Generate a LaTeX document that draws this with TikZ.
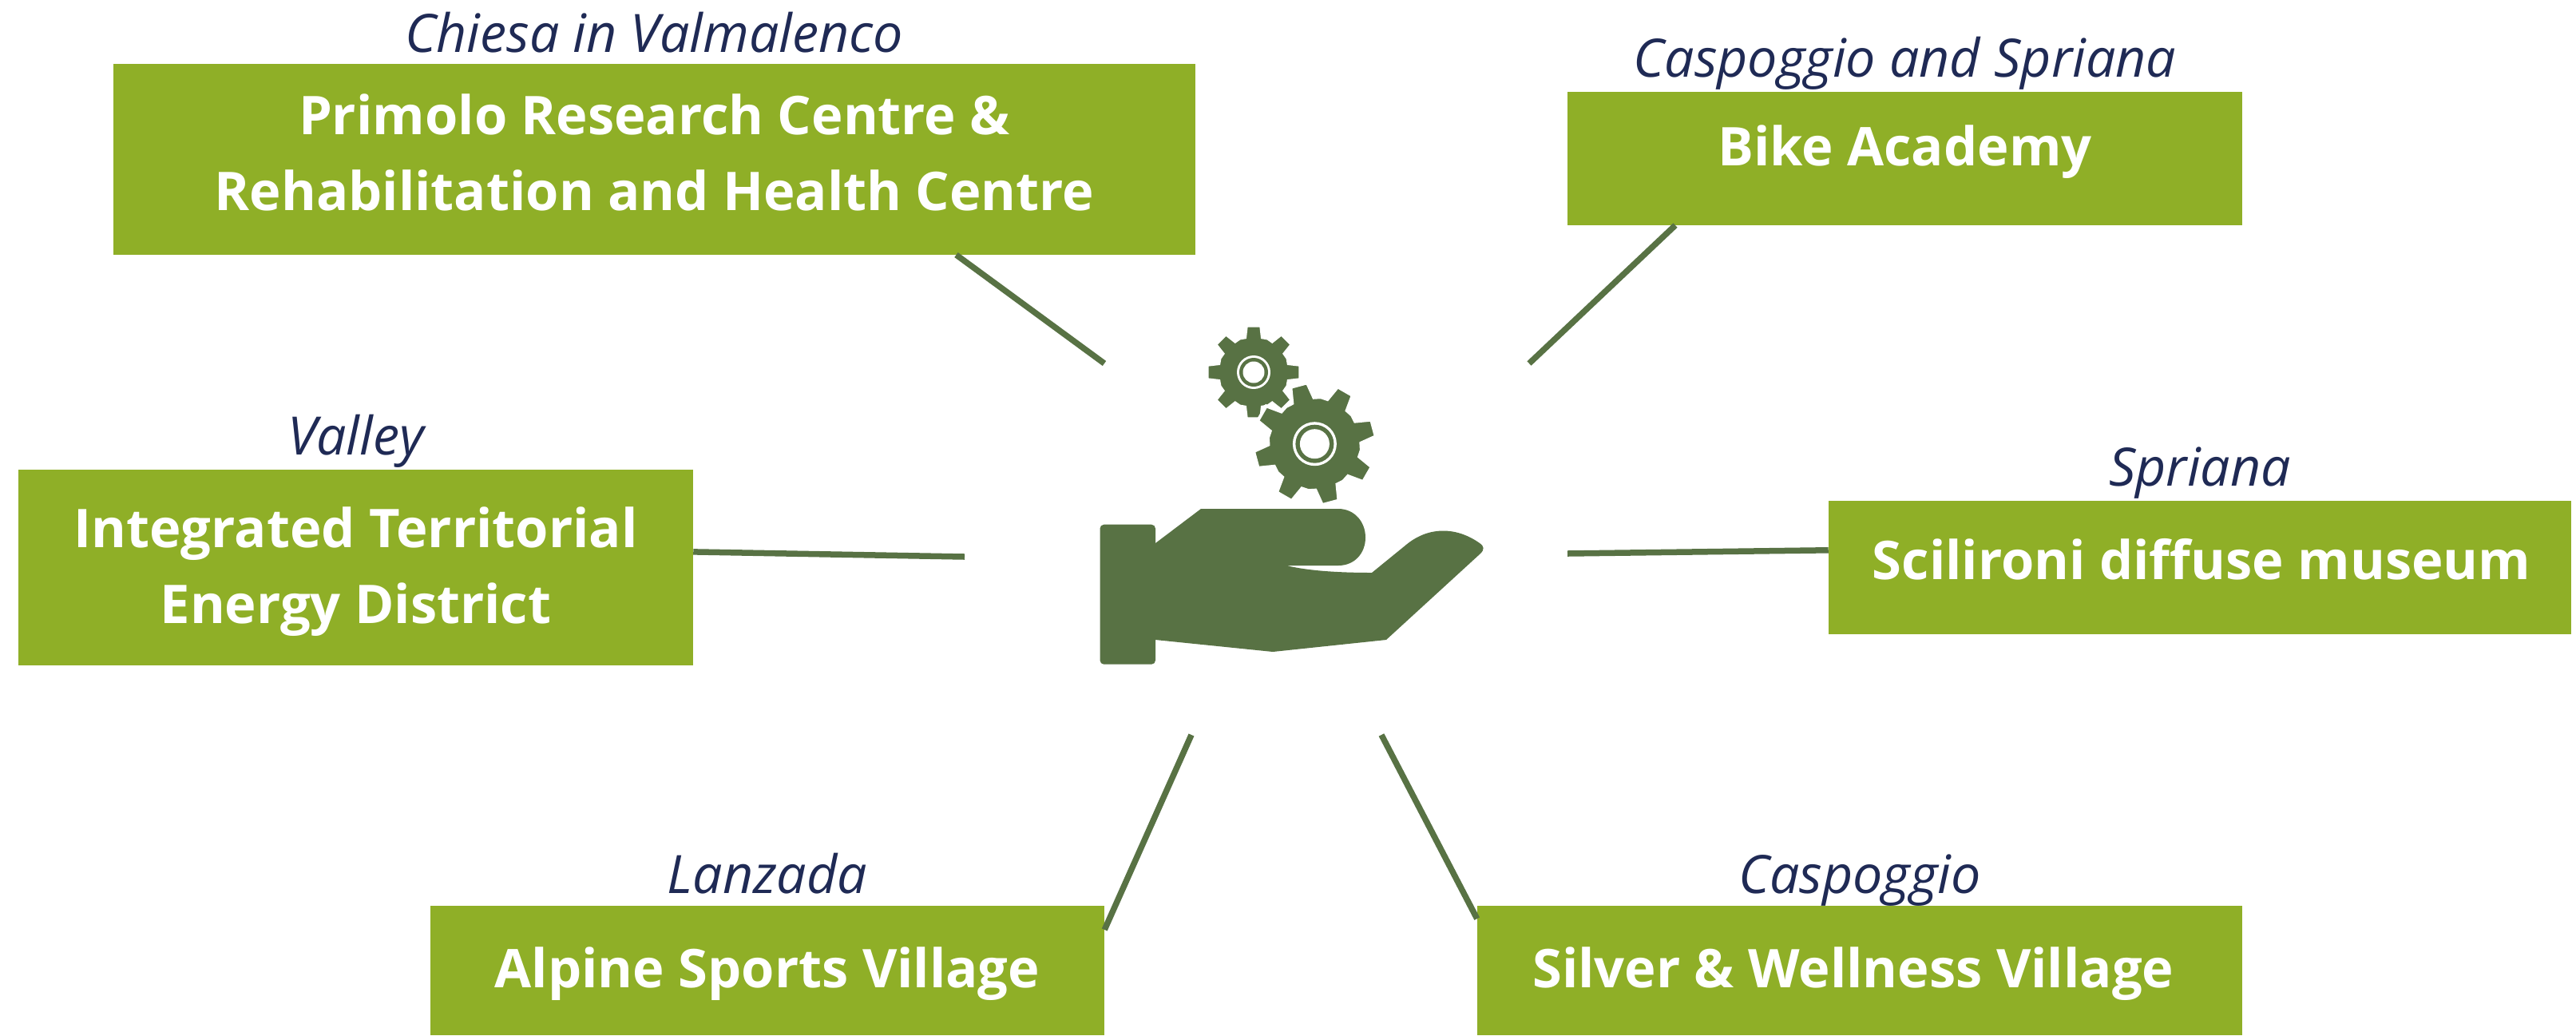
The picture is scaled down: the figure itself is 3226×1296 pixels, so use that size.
\documentclass[tikz,border=0pt]{standalone}
\usepackage{fontspec}
\setmainfont{Open Sans}
\usetikzlibrary{positioning,calc}
\definecolor{sitegreen}{HTML}{8FAF27}
\definecolor{handgreen}{HTML}{587244}
\definecolor{placeblue}{HTML}{1F2A55}
\providecommand{\sitetext}[2]{\raisebox{#1}[0pt][0pt]{\begin{tabular}{@{}c@{}}#2\end{tabular}}}
\providecommand{\gear}[5]{% centre, turn, root radius, tip radius
    \fill[handgreen,draw=white,line width=0.4mm,shift={#1}] (#2-14:#3)
    \foreach \a in {0,45,...,315} {
        -- (#2+\a-14:#3) -- (#2+\a-#5:#4) -- (#2+\a+#5:#4) -- (#2+\a+14:#3) -- (#2+\a+22.5:#3+1)
    } -- cycle;
}
\tikzset{
    site/.style={fill=sitegreen,text=white,inner sep=0pt,outer sep=0pt,font=\bfseries\fontsize{19}{27}\selectfont},
    place/.style={text=placeblue,inner sep=0pt,text depth=0pt,font=\itshape\fontsize{18.85}{24}\selectfont},
    spoke/.style={draw=handgreen,line width=0.75mm}
}
\begin{document}
\begin{tikzpicture}[x=0.01cm,y=-0.01cm]
    \useasboundingbox (0,0) rectangle (3226,1296);
    \node[site,minimum width=13.54cm,minimum height=2.39cm] (primolo) at (819.5,199.5) {\sitetext{-3.7pt}{Primolo Research Centre \&\\Rehabilitation and Health Centre}};
    \node[site,minimum width=8.45cm,minimum height=1.67cm] (bike) at (2385.5,198.5) {\sitetext{-1.4pt}{Bike Academy}};
    \node[site,minimum width=8.45cm,minimum height=2.45cm] (district) at (445.5,710.5) {\sitetext{-5.2pt}{Integrated Territorial\\Energy District}};
    \node[site,minimum width=9.30cm,minimum height=1.67cm] (museum) at (2755,710.5) {\kern1.2pt\sitetext{-3.2pt}{Scilironi diffuse museum}};
    \node[site,minimum width=8.44cm,minimum height=1.62cm] (sports) at (961,1215) {\sitetext{-5.1pt}{Alpine Sports Village}};
    \node[site,minimum width=9.58cm,minimum height=1.62cm] (silver) at (2329,1215) {\sitetext{-5.1pt}{Silver \& Wellness Village}\kern4.7pt};
    % places
    \node[place,above=4pt of primolo] (primolo_p) {Chiesa in Valmalenco};
    \node[place,above=5pt of bike] (bike_p) {Caspoggio and Spriana};
    \node[place,above=5pt of district] (district_p) {Valley};
    \node[place,above=5pt of museum] (museum_p) {Spriana};
    \node[place,above=4.3pt of sports] (sports_p) {Lanzada};
    \node[place,above=4.3pt of silver] (silver_p) {Caspoggio};
    % free ends near the hand
    \coordinate (primolo_e) at (1383,455);
    \coordinate (bike_e) at (1915,455);
    \coordinate (district_e) at (1208,697);
    \coordinate (museum_e) at (1963,693);
    \coordinate (sports_e) at (1492,920);
    \coordinate (silver_e) at (1730,920);
    \draw[spoke] ($(primolo.south west)!0.779!(primolo.south east)$) -- (primolo_e);
    \draw[spoke] ($(bike.south west)!0.16!(bike.south east)$) -- (bike_e);
    \draw[spoke] ($(district.south east)!0.58!(district.north east)$) -- (district_e);
    \draw[spoke] ($(museum.south west)!0.63!(museum.north west)$) -- (museum_e);
    \draw[spoke] ($(sports.south east)!0.815!(sports.north east)$) -- (sports_e);
    \draw[spoke] ($(silver.south west)!0.90!(silver.north west)$) -- (silver_e);
    % hand
    \fill[handgreen,rounded corners=0.05cm] (1377.5,656.7) rectangle (1447,831.7);
    \fill[handgreen] (1440,686) -- (1447,680) -- (1504,637) -- (1676,637)
        .. controls (1696,637) and (1710,653) .. (1710,673)
        .. controls (1710,693) and (1696,708) .. (1676,708) -- (1611,708)
        .. controls (1640,715) and (1680,717) .. (1718,717) -- (1761,682)
        .. controls (1790,658) and (1825,660) .. (1853,680)
        .. controls (1859,684) and (1859,688) .. (1854,693) -- (1736,801) -- (1594,816) -- (1447,801) -- (1440,801) -- cycle;
    % gears
    \gear{(1570,466)}{0}{45}{59}{9}
    \gear{(1646.4,555.7)}{30}{58}{77}{8}
    \foreach \c/\ra/\rb/\rc in {{1570,466}/21/18/13.5,{1646.4,555.7}/27.5/24/18.5} {
        \fill[white] (\c) circle[radius=\ra*0.01cm];
        \fill[handgreen] (\c) circle[radius=\rb*0.01cm];
        \fill[white] (\c) circle[radius=\rc*0.01cm];
    }
\end{tikzpicture}
\end{document}
